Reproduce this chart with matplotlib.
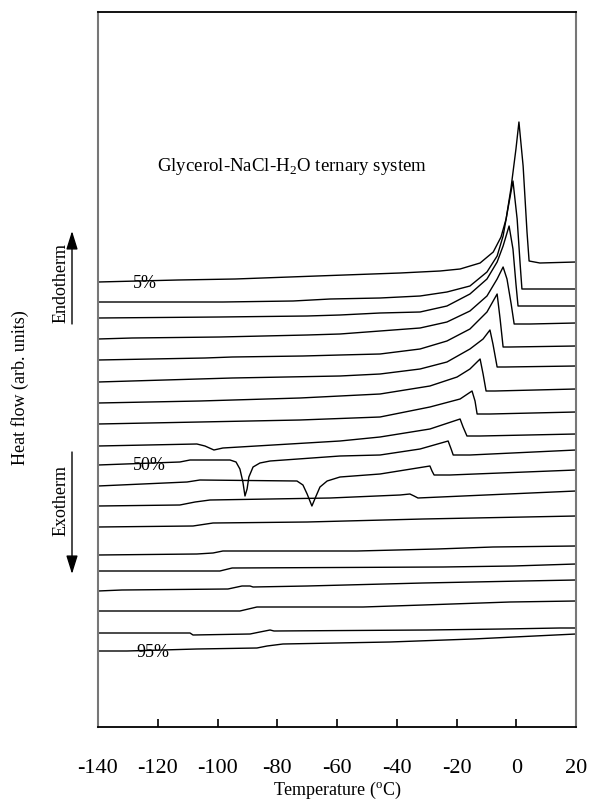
import matplotlib
matplotlib.use("Agg")
import matplotlib.pyplot as plt

plt.rcParams['font.family'] = ['Liberation Serif', 'DejaVu Serif']
plt.rcParams['mathtext.fontset'] = 'custom'
plt.rcParams['mathtext.rm'] = 'Liberation Serif'
plt.rcParams['axes.unicode_minus'] = False

# Curvas DSC (temperatura en °C, flujo de calor en unidades arbitrarias)
t05 = [-140, -113.2, -94.1, -66.7, -38.9, -25.5, -18.8, -12.1, -7.7, -5.1, -3.4, -1.8, -0.1, 0.9, 2.3, 3.6, 4.3, 7.9, 20]
h05 = [445, 447, 448, 451, 454, 456, 458, 464, 475, 490, 508, 538, 578, 605, 561, 495, 466, 464, 465]
t10 = [-140, -98.2, -74.7, -62.3, -45.6, -32.2, -23.2, -15.5, -9.8, -6.4, -4.4, -2.8, -1.1, 0.3, 1.3, 1.9, 4.6, 20]
h10 = [425, 425, 426, 428, 429, 431, 435, 441, 455, 471, 491, 518, 546, 508, 463, 438, 438, 438]
t15 = [-140, -99.2, -70.0, -59.0, -45.6, -32.2, -23.2, -15.5, -9.8, -6.4, -4.4, -2.4, -1.1, -0.1, 0.6, 4.6, 20]
h15 = [409, 410, 411, 412, 414, 415, 421, 433, 448, 465, 481, 501, 478, 443, 421, 421, 421]
t20 = [-140, -128.6, -99.2, -70.0, -59.0, -45.6, -32.2, -23.2, -15.5, -9.8, -6.4, -4.4, -3.1, -1.7, -0.7, 4.6, 20]
h20 = [388, 389, 390, 392, 393, 396, 399, 405, 416, 431, 448, 460, 448, 423, 403, 403, 404]
t25 = [-140, -104.2, -95.1, -71.4, -59.0, -45.6, -32.2, -23.2, -15.5, -9.8, -6.4, -5.4, -4.4, -2.1, 20]
h25 = [367, 369, 370, 371, 372, 373, 378, 386, 398, 415, 433, 408, 380, 380, 381]
t30 = [-140, -95.1, -59.0, -45.6, -32.2, -23.2, -15.5, -11.1, -8.8, -7.8, -6.4, -3.7, 20]
h30 = [345, 349, 351, 353, 358, 365, 378, 388, 397, 383, 360, 360, 361]
t35 = [-140, -105.9, -72.4, -45.6, -28.9, -19.8, -15.5, -12.1, -11.1, -10.1, -7.1, 20]
h35 = [324, 326, 329, 333, 341, 350, 358, 368, 353, 336, 336, 338]
t40 = [-140, -105.9, -72.4, -45.6, -28.9, -18.8, -14.8, -13.8, -13.1, -8.8, 20]
h40 = [303, 305, 307, 310, 320, 328, 336, 326, 313, 313, 315]
t45 = [-140, -106.9, -104.2, -101.2, -98.2, -59.0, -45.6, -28.9, -18.8, -17.8, -16.5, -12.1, 20]
h45 = [281, 283, 281, 277, 279, 286, 290, 298, 308, 300, 291, 291, 293]
t50 = [-140, -112.6, -109.2, -95.8, -93.8, -92.5, -91.5, -90.8, -90.1, -89.5, -88.1, -85.8, -82.4, -59.0, -45.6, -32.2, -22.8, -21.8, -21.1, -15.5, 20]
h50 = [262, 265, 267, 267, 265, 258, 245, 231, 238, 250, 260, 264, 266, 271, 272, 278, 286, 278, 272, 272, 277]
t55 = [-140, -110.2, -105.9, -73.4, -71.4, -70.0, -68.4, -67.0, -65.7, -63.3, -59.0, -45.6, -28.9, -28.2, -27.5, -22.2, 20]
h55 = [241, 245, 247, 246, 242, 233, 221, 231, 240, 246, 250, 253, 261, 256, 252, 252, 257]
t60 = [-140, -112.6, -107.5, -102.5, -62.3, -38.9, -35.6, -34.2, -32.9, 20]
h60 = [221, 222, 225, 227, 229, 232, 233, 231, 229, 236]
t65 = [-140, -108.2, -101.5, -70.0, -31.2, 20]
h65 = [200, 201, 204, 205, 208, 211]
t70 = [-140, -106.9, -101.5, -98.2, -53.3, -26.5, -7.8, 20]
h70 = [172, 173, 174, 176, 176, 178, 180, 181]
t75 = [-140, -99.2, -95.1, -24.5, -1.1, 20]
h75 = [156, 156, 159, 160, 161, 163]
t80 = [-140, -132.0, -96.5, -91.8, -89.1, -88.1, -70.0, -31.2, 2.3, 20]
h80 = [136, 137, 138, 141, 141, 140, 141, 144, 146, 147]
t85 = [-140, -92.5, -86.8, -51.3, -31.2, -2.1, 20]
h85 = [116, 116, 120, 120, 122, 125, 126]
t90 = [-140, -109.2, -108.2, -89.1, -85.8, -82.4, -81.1, -29.9, -4.4, 14.6, 20]
h90 = [94, 94, 92, 93, 95, 97, 96, 97, 98, 99, 99]
t95 = [-140, -130.3, -106.9, -86.8, -83.4, -78.1, -42.3, -14.5, 20]
h95 = [76, 76, 78, 79, 81, 83, 85, 88, 93]

curvas = [(t05, h05), (t10, h10), (t15, h15), (t20, h20), (t25, h25), (t30, h30),
          (t35, h35), (t40, h40), (t45, h45), (t50, h50), (t55, h55), (t60, h60),
          (t65, h65), (t70, h70), (t75, h75), (t80, h80), (t85, h85), (t90, h90),
          (t95, h95)]

# Etiquetas de concentración (texto, temperatura, altura)
etiquetas = ["5%", "50%", "95%"]
etiq_t = [-128.3, -128.3, -127.0]
etiq_h = [445, 262, 75]

xticks = [-140, -120, -100, -80, -60, -40, -20, 0, 20]
xticklabels = ["-140", "-120", "-100", "-80", "-60", "-40", "-20", "0", "20"]

fig = plt.figure(figsize=(5.91, 8.03), dpi=100)
ax = fig.add_axes([98/591, 75/803, 478/591, 715/803])

for t, h in curvas:
    ax.plot(t, h, color="black", lw=1.0)

for txt, t, h in zip(etiquetas, etiq_t, etiq_h):
    ax.text(t, h, txt, fontsize=13, ha="left", va="center")

ax.text(-120.3, 557, r"Glycerol-NaCl-H$_\mathrm{2}$O ternary system", fontsize=13.6, ha="left", va="baseline")

ax.set_xlim(-140, 20)
ax.set_ylim(0, 715)
ax.set_xticks(xticks)
ax.set_xticklabels(xticklabels, fontsize=16)
ax.set_yticks([])
ax.tick_params(axis="x", direction="in", length=6, width=1.2, pad=22, top=False)
ax.set_xlabel(r"Temperature ($^\mathrm{o}$C)", fontsize=13)
ax.xaxis.set_label_coords(0.5, -0.073)

for lado in ["left", "right"]:
    ax.spines[lado].set_color("#777777")
    ax.spines[lado].set_linewidth(1.5)
for lado in ["top", "bottom"]:
    ax.spines[lado].set_color("black")
    ax.spines[lado].set_linewidth(1.3)

# Rótulos del eje vertical y flechas endo/exo
fig.text(20/591, 1 - 388/803, "Heat flow (arb. units)", rotation=90, fontsize=13, ha="center", va="center")
fig.text(61/591, 1 - 283/803, "Endotherm", rotation=90, fontsize=13, ha="center", va="center")
fig.text(61/591, 1 - 500/803, "Exotherm", rotation=90, fontsize=13, ha="center", va="center")
ax.annotate("", xy=(72/591, 1 - 232/803), xytext=(72/591, 1 - 325/803),
            xycoords="figure fraction", textcoords="figure fraction",
            arrowprops=dict(arrowstyle="-|>,head_length=0.8,head_width=0.25", color="black", lw=1.0,
                            shrinkA=0, shrinkB=0, mutation_scale=14))
ax.annotate("", xy=(72/591, 1 - 575/803), xytext=(72/591, 1 - 453/803),
            xycoords="figure fraction", textcoords="figure fraction",
            arrowprops=dict(arrowstyle="-|>,head_length=0.8,head_width=0.25", color="black", lw=1.0,
                            shrinkA=0, shrinkB=0, mutation_scale=14))

fig.savefig("out.png", dpi=100)
